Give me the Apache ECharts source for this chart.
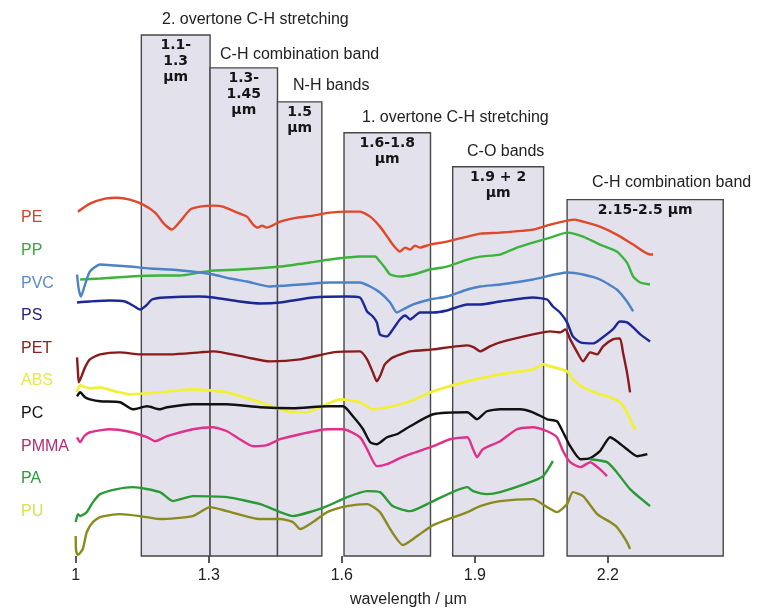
<!DOCTYPE html>
<html><head><meta charset="utf-8">
<script src="https://cdn.jsdelivr.net/npm/echarts@6/dist/echarts.min.js"></script>
<style>html,body{margin:0;padding:0;background:#fff}#c{width:763px;height:613px}</style>
</head><body><div id="c"></div>
<script>
// ---- data (wavelength in µm, offset reflectance in arbitrary units) ----
const seriesNames = ['PE','PP','PVC','PS','PET','ABS','PC','PMMA','PA','PU'];
const PE = [[1.005,345],[1.032,353],[1.066,358],[1.093,359],[1.122,357],[1.152,352],[1.179,344],[1.201,332],[1.217,327],[1.235,335],[1.258,347],[1.280,350],[1.310,351],[1.332,350],[1.359,345],[1.386,340],[1.400,332],[1.411,329],[1.420,331],[1.431,329],[1.461,335],[1.499,339],[1.535,341],[1.573,344],[1.612,345],[1.641,345],[1.664,340],[1.686,330],[1.704,319],[1.715,312],[1.731,305],[1.743,309],[1.754,307],[1.765,311],[1.776,309],[1.799,312],[1.837,315],[1.883,320],[1.912,323],[1.957,324],[2.031,327],[2.070,332],[2.108,336],[2.126,337],[2.144,335],[2.182,330],[2.220,322],[2.257,312],[2.295,302],[2.302,302]];
const PP = [[1.010,277],[1.055,278],[1.122,280],[1.190,281],[1.235,281],[1.280,284],[1.310,286],[1.370,287],[1.461,290],[1.528,294],[1.573,297],[1.641,300],[1.675,300],[1.686,295],[1.697,289],[1.709,282],[1.731,280],[1.761,282],[1.799,287],[1.837,290],[1.883,297],[1.912,300],[1.957,302],[1.995,309],[2.031,314],[2.070,319],[2.108,324],[2.144,320],[2.182,312],[2.220,305],[2.243,294],[2.257,280],[2.273,274],[2.295,272]];
const PVC = [[1.003,282],[1.007,267],[1.012,260],[1.021,272],[1.032,285],[1.055,292],[1.089,291],[1.122,290],[1.168,288],[1.213,287],[1.280,284],[1.310,282],[1.348,278],[1.386,275],[1.438,270],[1.506,272],[1.573,274],[1.641,274],[1.664,270],[1.686,264],[1.709,254],[1.724,244],[1.738,247],[1.761,252],[1.799,257],[1.837,260],[1.883,267],[1.912,270],[1.957,272],[2.031,277],[2.108,284],[2.144,282],[2.182,277],[2.220,267],[2.243,255],[2.257,245]];
const PS = [[1.003,254],[1.032,255],[1.077,256],[1.111,255],[1.129,251],[1.145,247],[1.159,251],[1.172,257],[1.201,259],[1.280,260],[1.310,259],[1.370,255],[1.416,253],[1.461,254],[1.535,259],[1.612,260],[1.641,259],[1.657,245],[1.670,240],[1.679,234],[1.686,222],[1.702,220],[1.715,227],[1.731,237],[1.743,241],[1.754,237],[1.761,239],[1.776,244],[1.806,244],[1.837,246],[1.883,252],[1.912,252],[1.957,255],[2.031,259],[2.063,257],[2.076,250],[2.092,244],[2.108,234],[2.121,220],[2.138,214],[2.167,213],[2.182,217],[2.211,227],[2.227,235],[2.243,234],[2.257,229],[2.273,222],[2.295,215]];
const PET = [[1.003,199],[1.005,185],[1.007,174],[1.014,181],[1.021,189],[1.032,197],[1.055,202],[1.100,204],[1.145,202],[1.213,202],[1.280,204],[1.310,205],[1.386,199],[1.438,195],[1.506,197],[1.580,204],[1.641,205],[1.657,197],[1.670,184],[1.679,175],[1.688,182],[1.697,192],[1.715,199],[1.754,205],[1.806,207],[1.883,211],[1.898,209],[1.912,205],[1.934,210],[1.957,214],[2.031,222],[2.070,225],[2.092,224],[2.104,227],[2.115,217],[2.131,204],[2.144,195],[2.160,204],[2.176,202],[2.189,210],[2.211,217],[2.227,218],[2.234,204],[2.243,184],[2.250,164]];
const ABS = [[1.003,164],[1.010,171],[1.032,168],[1.055,169],[1.089,165],[1.122,162],[1.190,164],[1.264,167],[1.341,164],[1.416,154],[1.476,145],[1.522,144],[1.551,149],[1.596,157],[1.641,154],[1.670,147],[1.715,150],[1.754,155],[1.806,165],[1.883,175],[1.957,182],[2.031,187],[2.054,192],[2.070,190],[2.108,185],[2.121,177],[2.144,169],[2.182,162],[2.205,159],[2.227,154],[2.243,144],[2.257,130],[2.264,127]];
const PC = [[1.003,160],[1.010,164],[1.021,159],[1.032,157],[1.055,155],[1.100,154],[1.129,147],[1.161,150],[1.190,147],[1.206,149],[1.264,152],[1.341,152],[1.416,149],[1.490,148],[1.567,150],[1.603,150],[1.625,140],[1.648,127],[1.664,114],[1.679,112],[1.702,119],[1.724,122],[1.754,130],[1.806,142],[1.883,144],[1.905,137],[1.927,145],[1.957,147],[2.002,147],[2.031,144],[2.063,137],[2.085,135],[2.099,124],[2.115,110],[2.138,97],[2.160,98],[2.182,105],[2.205,119],[2.220,115],[2.243,107],[2.266,100],[2.289,102]];
const PMMA = [[1.003,119],[1.010,114],[1.019,120],[1.032,124],[1.077,127],[1.116,125],[1.161,119],[1.179,115],[1.206,120],[1.264,127],[1.310,129],[1.341,125],[1.370,117],[1.400,110],[1.431,111],[1.461,117],[1.506,122],[1.567,127],[1.603,127],[1.641,119],[1.657,107],[1.679,90],[1.702,92],[1.731,98],[1.754,102],[1.806,110],[1.844,117],[1.883,119],[1.896,107],[1.905,99],[1.918,107],[1.957,115],[1.995,127],[2.031,129],[2.063,125],[2.085,119],[2.099,105],[2.115,94],[2.138,89],[2.160,94],[2.182,87],[2.198,80]];
const PA = [[1.000,34],[1.005,42],[1.010,40],[1.025,44],[1.039,54],[1.055,62],[1.093,67],[1.129,69],[1.190,64],[1.219,55],[1.264,60],[1.341,59],[1.416,52],[1.461,44],[1.490,40],[1.535,45],[1.567,50],[1.612,59],[1.657,65],[1.686,64],[1.715,50],[1.754,45],[1.806,55],[1.883,69],[1.896,65],[1.927,62],[1.957,64],[2.031,75],[2.054,80],[2.076,95],[2.12,null],[2.160,97],[2.198,94],[2.220,84],[2.250,67],[2.295,50]];
const PU = [[1.000,20],[1.001,5],[1.005,1],[1.016,7],[1.025,24],[1.039,34],[1.055,39],[1.100,42],[1.145,40],[1.190,37],[1.264,40],[1.303,49],[1.341,45],[1.416,37],[1.461,37],[1.490,34],[1.506,27],[1.535,34],[1.567,44],[1.612,50],[1.657,52],[1.686,44],[1.709,27],[1.738,11],[1.770,20],[1.806,31],[1.883,44],[1.912,50],[1.957,55],[2.031,57],[2.063,49],[2.085,44],[2.108,52],[2.121,64],[2.144,60],[2.176,42],[2.205,34],[2.220,29],[2.243,14],[2.250,7]];
const seriesData = [PE, PP, PVC, PS, PET, ABS, PC, PMMA, PA, PU];

const tickValues = [1, 1.3, 1.6, 1.9, 2.2];
const tickLabels = ['1', '1.3', '1.6', '1.9', '2.2'];
const bandRanges = [[1.148,1.303],[1.303,1.455],[1.455,1.555],[1.605,1.800],[1.850,2.055],[2.108,2.460]];
const bandTops = [522, 489, 455, 424, 390, 357];
const bandLabels = ['1.1-\n1.3\nµm', '1.3-\n1.45\nµm', '1.5\nµm', '1.6-1.8\nµm', '1.9 + 2\nµm', '2.15-2.5 µm'];
const bandTitles = ['2. overtone C-H stretching', 'C-H combination band', 'N-H bands', '1. overtone C-H stretching', 'C-O bands', 'C-H combination band'];

// ---- styles ----
const FONT = '"Liberation Sans", Arial, Helvetica, sans-serif';
const lineColors = ['#e0472b','#3cb43c','#4c82c6','#1c2898','#8b1a1a','#f2f034','#111111','#e0308c','#2a9a34','#8a8a1e'];
const labelColors = ['#c44a30','#3aa83a','#5a8cc8','#25257c','#8b2020','#e8e84c','#111111','#b62a72','#2e9a3e','#dede50'];
const titlePos = [[162,20],[220,55],[293,86],[362,118],[467,152],[592,183]];

const chart = echarts.init(document.getElementById('c'), null, {renderer: 'canvas'});

const bandSeries = {
  name: 'bands', type: 'line', data: [], z: 1, silent: true,
  markArea: {
    silent: true,
    itemStyle: {color: '#e3e2ec', borderColor: '#474747', borderWidth: 1.4},
    label: {position: 'insideTop', distance: 3, color: '#151515', fontFamily: '"DejaVu Sans", sans-serif',
            fontWeight: 'bold', fontSize: 14, lineHeight: 16},
    data: bandRanges.map((r, i) => [
      {xAxis: r[0], yAxis: 0, name: bandLabels[i]},
      {xAxis: r[1], yAxis: bandTops[i]}
    ])
  }
};

const lineSeries = seriesNames.map((n, i) => ({
  name: n, type: 'line', data: seriesData[i], showSymbol: false, smooth: 0.2,
  connectNulls: false, z: 3, silent: true,
  lineStyle: {color: lineColors[i], width: (n === 'ABS' ? 2.7 : 2.4)},
  itemStyle: {color: lineColors[i]}
}));

chart.setOption({
  animation: false,
  backgroundColor: '#ffffff',
  grid: {left: 75.7, right: 22.05, top: 27, bottom: 56},
  xAxis: {
    type: 'value', min: 1, max: 2.5, interval: 0.3,
    name: 'wavelength / µm', nameLocation: 'middle', nameGap: 36,
    nameTextStyle: {fontSize: 16, color: '#222', fontFamily: FONT},
    axisLine: {show: false},
    axisTick: {show: true, length: 7, customValues: tickValues, lineStyle: {color: '#222', width: 1.5}},
    axisLabel: {customValues: tickValues, margin: 12, fontSize: 16, color: '#222', fontFamily: FONT,
      formatter: v => { const k = tickValues.findIndex(t => Math.abs(t - v) < 1e-6); return k >= 0 ? tickLabels[k] : ''; }},
    splitLine: {show: false}
  },
  yAxis: {type: 'value', min: 0, max: 530, show: false, splitLine: {show: false}},
  legend: {
    orient: 'vertical', left: 11, top: 205, itemWidth: 0, itemHeight: 16, itemGap: 16.6,
    icon: 'rect', selectedMode: false,
    textStyle: {fontSize: 16, fontFamily: FONT},
    data: seriesNames.map((n, i) => ({name: n, itemStyle: {opacity: 0}, textStyle: {color: labelColors[i]}}))
  },
  graphic: bandTitles.map((t, i) => ({
    type: 'text', x: titlePos[i][0], y: titlePos[i][1], silent: true,
    style: {text: t, fontSize: 16, fontFamily: FONT, fill: '#222', verticalAlign: 'middle'}
  })),
  series: [bandSeries].concat(lineSeries)
});
</script></body></html>
